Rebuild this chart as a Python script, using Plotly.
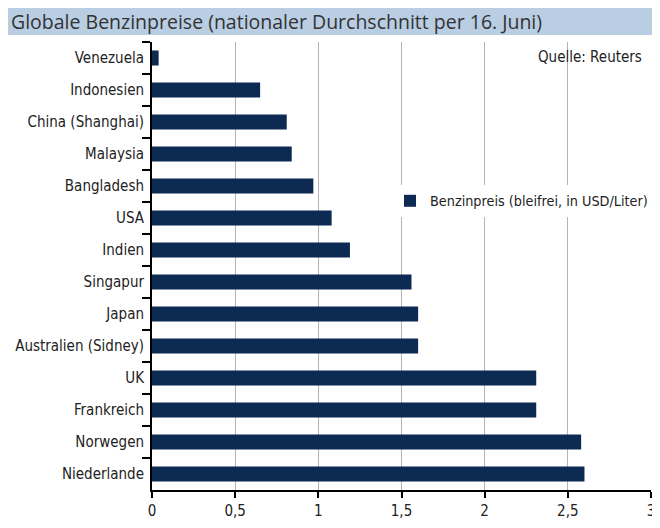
import plotly.graph_objects as go

countries = ["Venezuela", "Indonesien", "China (Shanghai)", "Malaysia", "Bangladesh", "USA",
             "Indien", "Singapur", "Japan", "Australien (Sidney)", "UK", "Frankreich",
             "Norwegen", "Niederlande"]
prices = [0.04, 0.65, 0.81, 0.84, 0.97, 1.08, 1.19, 1.56, 1.60, 1.60, 2.31, 2.31, 2.58, 2.60]
x_ticks = [0, 0.5, 1, 1.5, 2, 2.5, 3]

title_text = "Globale Benzinpreise (nationaler Durchschnitt per 16. Juni)"
source_text = "Quelle: Reuters"
series_name = "Benzinpreis (bleifrei, in USD/Liter)"

NAVY = "#0c2a52"
FONT = "Liberation Sans Narrow, DejaVu Sans Condensed, sans-serif"

fig = go.Figure()
fig.add_trace(go.Bar(
    x=prices, y=countries, orientation="h", name=series_name,
    marker=dict(color=NAVY, line=dict(width=0)), showlegend=True,
))

# page has an 8px body margin; figure coords = page coords - 8
OFF = 8
W, H = 652, 520
L, T = 152 - OFF, 42 - OFF
R = W - (651 - OFF)
B = H - (490 - OFF)
pw, ph = W - L - R, H - T - B

def px_x(p):
    return (p - OFF - L) / pw

def px_y(p):
    return (H - B - (p - OFF)) / ph

fig.update_layout(
    width=W, height=H,
    margin=dict(l=L, r=R, t=T, b=B, autoexpand=False),
    paper_bgcolor="white", plot_bgcolor="white",
    separators=",.",
    bargap=0.53,
    font=dict(family=FONT, size=15, color="#222222"),
    xaxis=dict(
        range=[0, 3], tickvals=x_ticks, showgrid=True, gridcolor="#b4b4b4", gridwidth=1,
        showline=True, linecolor="black", linewidth=2, ticks="outside", ticklen=6,
        tickwidth=2, tickcolor="black", zeroline=False,
        tickfont=dict(family=FONT, size=15, color="#222222"),
    ),
    yaxis=dict(
        categoryorder="array", categoryarray=countries, autorange="reversed",
        showline=True, linecolor="black", linewidth=2, ticks="outside", ticklen=8,
        tickwidth=2, tickcolor="black", tickson="boundaries", showgrid=False,
        ticklabelstandoff=3,
        tickfont=dict(family=FONT, size=15, color="#222222"),
    ),
    legend=dict(
        x=px_x(390), y=px_y(201), xanchor="left", yanchor="middle",
        bgcolor="white", borderwidth=0,
        font=dict(family=FONT, size=14.3, color="#222222"),
        itemwidth=30,
    ),
    shapes=[dict(
        type="rect", xref="paper", yref="paper",
        x0=px_x(7), x1=px_x(W + 20), y0=px_y(35), y1=px_y(3),
        fillcolor="#b9cde3", line=dict(width=0), layer="below",
    )],
    annotations=[
        dict(text=title_text, xref="paper", yref="paper", x=px_x(9), y=px_y(22),
             xanchor="left", yanchor="middle", showarrow=False,
             font=dict(family="Open Sans, sans-serif", size=19.5, color="#333333")),
        dict(text=source_text, xref="paper", yref="paper", x=px_x(644), y=px_y(57),
             xanchor="right", yanchor="middle", showarrow=False,
             font=dict(family=FONT, size=15, color="#222222")),
    ],
)

fig.write_html("out.html")
